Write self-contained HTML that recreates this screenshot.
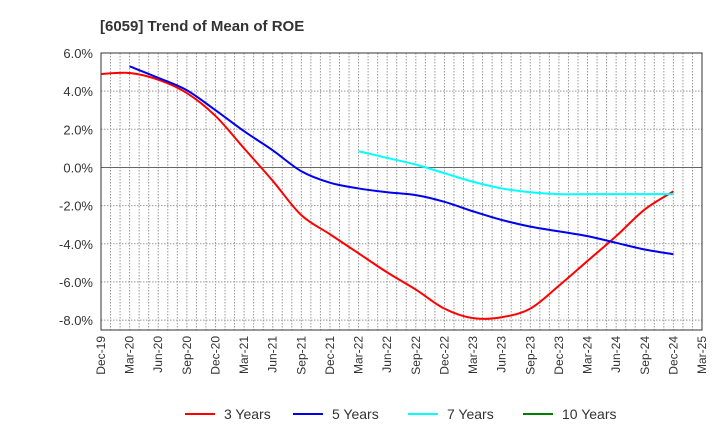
<!DOCTYPE html>
<html><head><meta charset="utf-8"><style>
body{margin:0;background:#fff;font-family:"Liberation Sans",sans-serif}
</style></head><body>
<svg id="c" width="720" height="440" xmlns="http://www.w3.org/2000/svg" style="font-family:'Liberation Sans',sans-serif">
<text x="100" y="31" font-size="15" font-weight="bold" fill="#333">[6059]  Trend of Mean of ROE</text>
<g id="grid"></g><g id="axes"></g><g id="series"></g><g id="legend"></g>
</svg>
<script>
const xLabels=["Dec-19","Mar-20","Jun-20","Sep-20","Dec-20","Mar-21","Jun-21","Sep-21","Dec-21","Mar-22","Jun-22","Sep-22","Dec-22","Mar-23","Jun-23","Sep-23","Dec-23","Mar-24","Jun-24","Sep-24","Dec-24","Mar-25"];
const yTicks=[6,4,2,0,-2,-4,-6,-8];
const red=[4.9,4.95,4.6,3.9,2.7,1.0,-0.7,-2.5,-3.5,-4.5,-5.5,-6.4,-7.4,-7.9,-7.85,-7.4,-6.2,-4.9,-3.6,-2.2,-1.25];
const redStart=0;
const blue=[5.3,4.7,4.05,3.0,1.9,0.9,-0.2,-0.8,-1.1,-1.3,-1.45,-1.8,-2.3,-2.75,-3.1,-3.35,-3.6,-3.95,-4.3,-4.55];
const blueStart=1;
const cyan=[0.85,0.5,0.15,-0.3,-0.75,-1.1,-1.3,-1.4,-1.4,-1.4,-1.4,-1.4];
const cyanStart=9;
const green=[];
const greenStart=0;
const L=101,R=702,T=53,B=330,yMax=6,yMin=-8.52;
const NS="http://www.w3.org/2000/svg";
const xs=i=>L+(R-L)*i/(xLabels.length-1);
const ys=v=>T+(B-T)*(yMax-v)/(yMax-yMin);
function mk(p,tag,at){const e=document.createElementNS(NS,tag);for(const k in at)e.setAttribute(k,at[k]);p.appendChild(e);return e;}
const grid=document.getElementById('grid'),axes=document.getElementById('axes'),ser=document.getElementById('series'),leg=document.getElementById('legend');
for(let m=1;m<(xLabels.length-1)*3;m++){const x=L+(R-L)*m/((xLabels.length-1)*3);
const g=mk(grid,'line',{x1:x,x2:x,y1:T,y2:B,stroke:'#999','stroke-dasharray':'1.5,1.5','stroke-width':1});
}
yTicks.forEach(v=>{const y=ys(v);
const g=mk(grid,'line',{x1:L,x2:R,y1:y,y2:y,stroke:v===0?'#666':'#999','stroke-dasharray':v===0?'':'1.5,1.5','stroke-width':1});

const t=mk(axes,'text',{x:L-8,y:y+5,'text-anchor':'end','font-size':13,fill:'#333'});t.textContent=v.toFixed(1)+'%';
});
xLabels.forEach((s,i)=>{const x=xs(i);
const t=mk(axes,'text',{x:0,y:0,transform:`translate(${x+4},${B+6}) rotate(-90)`,'text-anchor':'end','font-size':12,fill:'#333'});t.textContent=s;
});
const fr=mk(axes,'rect',{x:L,y:T,width:R-L,height:B-T,fill:'none',stroke:'#333','stroke-width':1});

function path(vals,start){const p=vals.map((v,i)=>[xs(i+start),ys(v)]);if(!p.length)return '';
let d=`M${p[0][0]},${p[0][1]}`;for(let i=0;i<p.length-1;i++){const p0=p[i-1]||p[i],p1=p[i],p2=p[i+1],p3=p[i+2]||p2;
d+=` C${p1[0]+(p2[0]-p0[0])/6},${p1[1]+(p2[1]-p0[1])/6} ${p2[0]-(p3[0]-p1[0])/6},${p2[1]-(p3[1]-p1[1])/6} ${p2[0]},${p2[1]}`;}return d;}
const S=[["3 Years",red,redStart,"#ff0000",185],["5 Years",blue,blueStart,"#0000ee",293],["7 Years",cyan,cyanStart,"#00ffff",408],["10 Years",green,greenStart,"#008000",523]];
S.forEach(([n,vals,st,col,lx])=>{
if(vals.length){const p=mk(ser,'path',{d:path(vals,st),fill:'none',stroke:col,'stroke-width':2});
}
const l=mk(leg,'line',{x1:lx,x2:lx+30,y1:414,y2:414,stroke:col,'stroke-width':2});

const t=mk(leg,'text',{x:lx+39,y:419,'font-size':14,fill:'#333'});t.textContent=n;
});
</script>
</body></html>
